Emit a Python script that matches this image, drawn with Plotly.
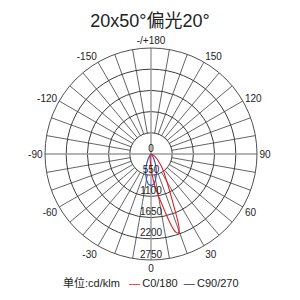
import plotly.graph_objects as go

# ---- data ----
title_text = "20x50°偏光20°"
ring_values = [550, 1100, 1650, 2200, 2750]
ring_labels = ["0", "550", "1100", "1650", "2200", "2750"]
ring_label_r = [0, 550, 1100, 1650, 2200, 2750]
angle_ticks = [0, 30, 60, 90, 120, 150, 180, 210, 240, 270, 300, 330]
angle_ticktext = ["0", "30", "60", "90", "120", "150", "-/+180", "-150", "-120", "-90", "-60", "-30"]

c0_theta = [-90, -60, -40, -30, -20, -10, -5, 0, 3, 5, 7, 10, 12, 14, 15, 16, 17, 18, 19, 20,
            21, 22, 23, 25, 28, 30, 35, 40, 50, 60, 70, 90]
c0_r = [0, 5, 15, 30, 60, 120, 200, 320, 520, 680, 850, 1100, 1300, 1600, 1770, 1950, 2090, 2150, 2170, 2130,
        2030, 1830, 1600, 1280, 960, 820, 590, 430, 220, 110, 50, 0]

c90_theta = [-90, -60, -50, -40, -35, -30, -25, -20, -15, -10, -5, 0, 5, 10, 15, 20, 25, 30, 35, 40, 50, 60, 90]
c90_r = [0, 0, 5, 35, 75, 150, 250, 390, 540, 680, 790, 820, 790, 680, 540, 390, 250, 150, 75, 35, 5, 0, 0]

spoke_step = 10
axis_angles = [0, 90, 180, 270]

RED = "#e31e24"
BLUE = "#2f4fc0"
GRID = "#3c3c3c"
AXISGREY = "#9a9a9a"
FONT = "Liberation Sans, Arial, Noto Sans CJK SC"

rmax = ring_values[-1]
rin = ring_values[0]

# spokes from inner ring to outer ring
sp_t, sp_r = [], []
for a in range(0, 360, spoke_step):
    if a in axis_angles:
        continue
    sp_t += [a, a, None]
    sp_r += [rin, rmax, None]

fig = go.Figure()
fig.add_trace(go.Scatterpolar(theta=sp_t, r=sp_r, mode="lines",
                              line=dict(color=GRID, width=0.8), hoverinfo="skip", showlegend=False))
# main axes through centre
fig.add_trace(go.Scatterpolar(theta=[0, 0, 180, None, 90, 90, 270], r=[rmax, 0, rmax, None, rmax, 0, rmax],
                              mode="lines", line=dict(color=AXISGREY, width=1.4),
                              hoverinfo="skip", showlegend=False))
fig.add_trace(go.Scatterpolar(theta=c90_theta, r=c90_r, mode="lines", name="C90/270",
                              line=dict(color=BLUE, width=1.1), showlegend=False))
fig.add_trace(go.Scatterpolar(theta=c0_theta, r=c0_r, mode="lines", name="C0/180",
                              line=dict(color=RED, width=1.1), showlegend=False))
fig.add_trace(go.Scatterpolar(theta=[0] * len(ring_label_r), r=ring_label_r, mode="text",
                              text=ring_labels, textposition="top center",
                              textfont=dict(size=10, color="#222", family=FONT),
                              hoverinfo="skip", showlegend=False))

fig.update_layout(
    width=300, height=300,
    margin=dict(l=45, r=43, t=48, b=40),
    paper_bgcolor="white", plot_bgcolor="white",
    font=dict(family=FONT, size=10, color="#222"),
    title=dict(text=title_text, x=0.5, xanchor="center", y=1 - 21 / 300, yanchor="middle",
               yref="container", font=dict(size=18, color="#222", family=FONT)),
    polar=dict(
        domain=dict(x=[0, 1], y=[0, 1]),
        bgcolor="white",
        radialaxis=dict(range=[0, rmax], tickvals=ring_values, showticklabels=False,
                        showline=False, ticks="", gridcolor=GRID, gridwidth=0.8),
        angularaxis=dict(rotation=-90, direction="counterclockwise", tickvals=angle_ticks,
                         ticktext=angle_ticktext, showgrid=False, showline=True,
                         linecolor=GRID, linewidth=0.9, ticks="",
                         tickfont=dict(size=10, color="#222", family=FONT)),
    ),
    annotations=[dict(
        xref="paper", yref="paper", x=0.5, y=-0.104, xanchor="center", yanchor="middle",
        showarrow=False, font=dict(size=11, color="#222", family=FONT),
        text=("单位:cd/klm\u00a0\u00a0\u00a0<span style='color:%s'>—</span>\u2009C0/180\u00a0\u00a0"
              "<span style='color:%s'>—</span>\u2009C90/270") % (RED, "#1f2f80"),
    )],
)

fig.write_html("out.html")
